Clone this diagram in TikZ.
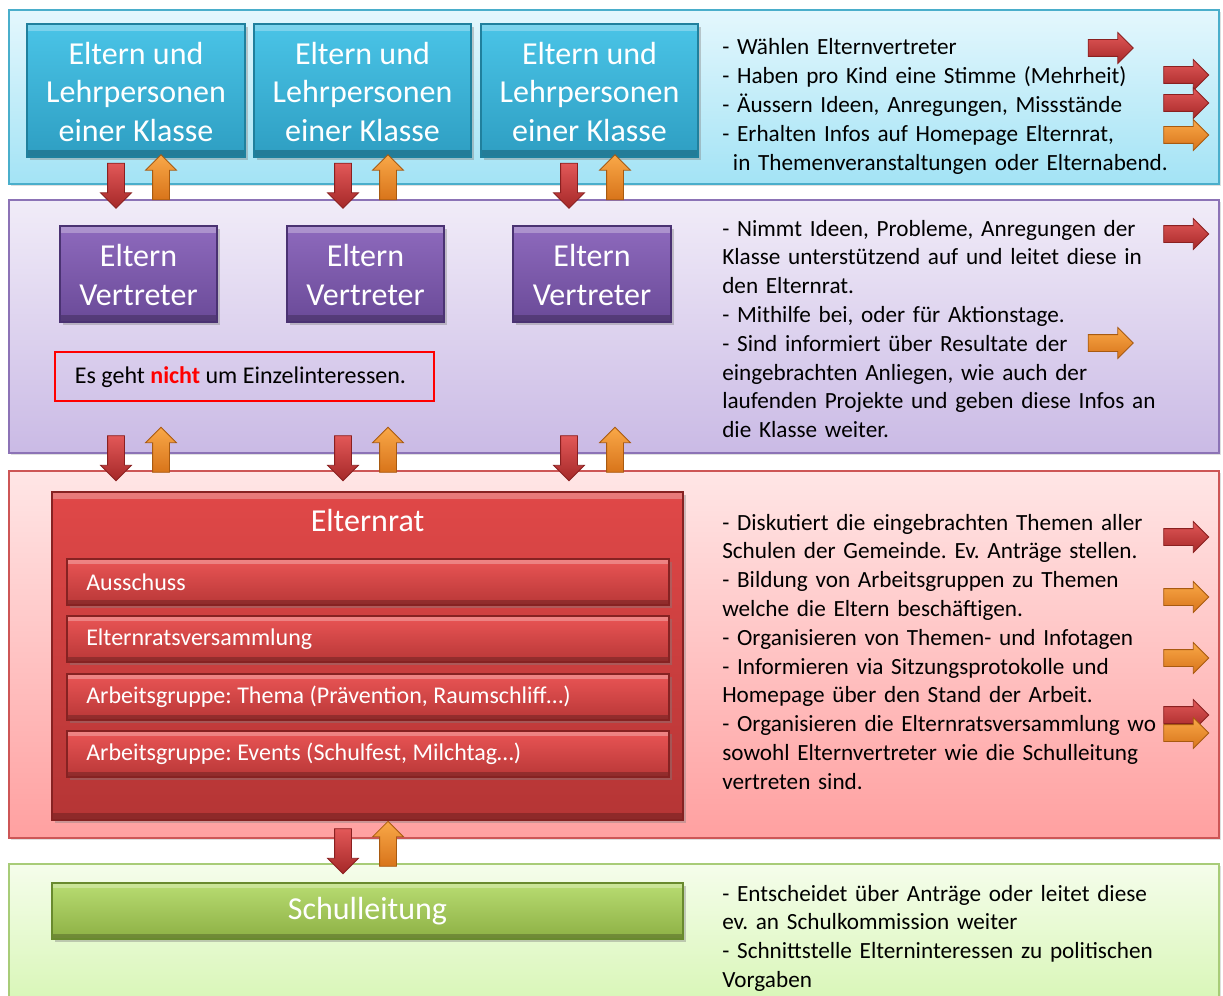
\documentclass[tikz,border=0pt]{standalone}
\usepackage{fontspec}
\setmainfont{Carlito}
\usetikzlibrary{shapes.arrows,shadows,fit}
\frenchspacing
\definecolor{bAt}{HTML}{E4F7FD}
\definecolor{bAb}{HTML}{A3E3F5}
\definecolor{bAe}{HTML}{4AAECB}
\definecolor{bBt}{HTML}{F1ECF8}
\definecolor{bBb}{HTML}{CABAE5}
\definecolor{bBe}{HTML}{8C73B6}
\definecolor{bCt}{HTML}{FFE6E6}
\definecolor{bCb}{HTML}{FFA0A0}
\definecolor{bCe}{HTML}{CD5656}
\definecolor{bDt}{HTML}{F5FDEB}
\definecolor{bDb}{HTML}{D8F6B6}
\definecolor{bDe}{HTML}{A8CC78}
\definecolor{tealT}{HTML}{4AC4E7}
\definecolor{tealB}{HTML}{2E9EC2}
\definecolor{tealE}{HTML}{20809D}
\definecolor{purT}{HTML}{8E6ABD}
\definecolor{purB}{HTML}{6A4A98}
\definecolor{purE}{HTML}{4A3272}
\definecolor{erT}{HTML}{E04848}
\definecolor{erB}{HTML}{B53535}
\definecolor{erE}{HTML}{862222}
\definecolor{sbT}{HTML}{EA5555}
\definecolor{sbB}{HTML}{B83737}
\definecolor{slT}{HTML}{B8DC72}
\definecolor{slB}{HTML}{8DB044}
\definecolor{slE}{HTML}{698A2E}
\definecolor{redT}{HTML}{E25858}
\definecolor{redB}{HTML}{A52828}
\definecolor{redE}{HTML}{8A2020}
\definecolor{orT}{HTML}{F9A848}
\definecolor{orB}{HTML}{D8741A}
\definecolor{orE}{HTML}{A85A10}
\definecolor{hotred}{HTML}{FF0000}
\begin{document}
\begin{tikzpicture}[x=0.75pt,y=-0.75pt,
  every node/.style={inner sep=0pt},
  bandbase/.style={line width=1.5pt, drop shadow={shadow xshift=1.5pt, shadow yshift=-1.5pt, opacity=.25}},
  bandA/.style={bandbase, draw=bAe, top color=bAt, bottom color=bAb},
  bandB/.style={bandbase, draw=bBe, top color=bBt, bottom color=bBb},
  bandC/.style={bandbase, draw=bCe, top color=bCt, bottom color=bCb},
  bandD/.style={bandbase, draw=bDe, top color=bDt, bottom color=bDb},
  bevel/.style={path picture={
     \fill[white,opacity=.28] (path picture bounding box.north west) rectangle ([yshift=-#1]path picture bounding box.north east);
     \fill[black,opacity=.22] (path picture bounding box.south west) rectangle ([yshift=#1]path picture bounding box.south east);}},
  boxbase/.style={line width=0.8pt, drop shadow={shadow xshift=2pt, shadow yshift=-2pt, opacity=.4}},
  boxtext/.style={text=white, align=center, font=\fontsize{24}{29}\selectfont},
  tealbox/.style={boxbase, bevel=5pt, draw=tealE, top color=tealT, bottom color=tealB},
  purbox/.style={boxbase, bevel=5pt, draw=purE, top color=purT, bottom color=purB},
  erbox/.style={boxbase, bevel=5pt, draw=erE, top color=erT, bottom color=erB},
  subbar/.style={boxbase, bevel=3.5pt, draw=erE, top color=sbT, bottom color=sbB},
  slbox/.style={boxbase, bevel=4pt, draw=slE, top color=slT, bottom color=slB},
  sublabel/.style={text=white, font=\fontsize{18}{21.6}\selectfont, anchor=west},
  desc/.style={font=\fontsize{17.4}{21.6}\selectfont, align=left, text width=370pt, anchor=base west},
  arr/.style={single arrow, single arrow head extend=5.25pt, single arrow head indent=0pt,
     text height=12pt, text depth=0pt, minimum height=33.75pt, line width=0.6pt},
  redarr/.style={arr, draw=redE, top color=redT, bottom color=redB},
  orarr/.style={arr, draw=orE, top color=orT, bottom color=orB}
]
\useasboundingbox (0,0) rectangle (1223,995);
\clip (0,0) rectangle (1223,995);

% bands
\node[bandA, fit={(9,10) (1219,184)}] (bandA) {};
\node[bandB, fit={(9,200) (1219,453)}] (bandB) {};
\node[bandC, fit={(9,471) (1219,838)}] (bandC) {};
\node[bandD, fit={(9,864) (1219,1005)}] (bandD) {};

% class boxes
\node[tealbox, fit={(27,24) (245,157)}] (k1) {};
\node[tealbox, fit={(254,24) (471,157)}] (k2) {};
\node[tealbox, fit={(481,24) (698,157)}] (k3) {};
\node[boxtext] (k1t) at ([yshift=-1pt]k1.center) {Eltern und\\Lehrpersonen\\einer Klasse};
\node[boxtext] (k2t) at ([yshift=-1pt]k2.center) {Eltern und\\Lehrpersonen\\einer Klasse};
\node[boxtext] (k3t) at ([yshift=-1pt]k3.center) {Eltern und\\Lehrpersonen\\einer Klasse};

% representatives
\node[purbox, fit={(60,226) (217,322)}] (v1) {};
\node[purbox, fit={(287,226) (444,322)}] (v2) {};
\node[purbox, fit={(513,226) (671,322)}] (v3) {};
\node[boxtext] (v1t) at ([yshift=-1pt]v1.center) {Eltern\\Vertreter};
\node[boxtext] (v2t) at ([yshift=-1pt]v2.center) {Eltern\\Vertreter};
\node[boxtext] (v3t) at ([yshift=-1pt]v3.center) {Eltern\\Vertreter};

\node[draw=hotred, line width=1.1pt, fit={(55,352) (434,401)}] (note) {};
\node[font=\fontsize{18}{21.6}\selectfont] (notet) at (240.5,377)
  {Es geht \textbf{\textcolor{hotred}{nicht}} um Einzelinteressen.};

% Elternrat
\node[erbox, fit={(52,492) (683,820)}] (er) {};
\node[boxtext] (ertitle) at (367.5,521) {Elternrat};
\node[subbar, fit={(67,559) (669,605)}] (s1) {};
\node[subbar, fit={(67,616) (669,662)}] (s2) {};
\node[subbar, fit={(67,674) (669,720)}] (s3) {};
\node[subbar, fit={(67,731) (669,777)}] (s4) {};
\node[sublabel] (s1t) at (86,582) {Ausschuss};
\node[sublabel] (s2t) at (86,639) {Elternratsversammlung};
\node[sublabel] (s3t) at (86,697) {Arbeitsgruppe: Thema (Prävention, Raumschliff…)};
\node[sublabel] (s4t) at (86,754) {Arbeitsgruppe: Events (Schulfest, Milchtag…)};

% Schulleitung
\node[slbox, fit={(52,883) (683,939)}] (sl) {};
\node[boxtext] (slt) at (sl.center) {Schulleitung};

% vertical arrows
\foreach \i/\xd/\xu in {1/116/161, 2/343/388, 3/569/615}{
  \node[redarr, rotate=-90] (dA\i) at (\xd,181.5) {};
  \node[orarr, rotate=90] (uA\i) at (\xu,181.5) {};
  \node[redarr, rotate=-90] (dB\i) at (\xd,454) {};
  \node[orarr, rotate=90] (uB\i) at (\xu,454) {};
}
\node[redarr, rotate=-90] (dC) at (343,847) {};
\node[orarr, rotate=90] (uC) at (388,848) {};

% descriptions
\node[desc] (t1) at (722,55) {- Wählen Elternvertreter\\
- Haben pro Kind eine Stimme (Mehrheit)\\
- Äussern Ideen, Anregungen, Missstände\\
- Erhalten Infos auf Homepage Elternrat,\\
\hspace*{8pt}in Themenveranstaltungen oder Elternabend.};

\node[desc] (t2) at (722,236) {- Nimmt Ideen, Probleme, Anregungen der\\
Klasse unterstützend auf und leitet diese in\\
den Elternrat.\\
- Mithilfe bei, oder für Aktionstage.\\
- Sind informiert über Resultate der\\
eingebrachten Anliegen, wie auch der\\
laufenden Projekte und geben diese Infos an\\
die Klasse weiter.};

\node[desc] (t3) at (722,530) {- Diskutiert die eingebrachten Themen aller\\
Schulen der Gemeinde. Ev. Anträge stellen.\\
- Bildung von Arbeitsgruppen zu Themen\\
welche die Eltern beschäftigen.\\
- Organisieren von Themen- und Infotagen\\
- Informieren via Sitzungsprotokolle und\\
Homepage über den Stand der Arbeit.\\
- Organisieren die Elternratsversammlung wo\\
sowohl Elternvertreter wie die Schulleitung\\
vertreten sind.};

\node[desc] (t4) at (722,901) {- Entscheidet über Anträge oder leitet diese\\
ev. an Schulkommission weiter\\
- Schnittstelle Elterninteressen zu politischen\\
Vorgaben};

% side arrows
\node[redarr] (r1) at (1106.5,48) {};
\node[redarr] (r2) at (1182,75) {};
\node[redarr] (r3) at (1182,103) {};
\node[orarr] (r4) at (1182,135) {};
\node[redarr] (r5) at (1182,234) {};
\node[orarr] (r6) at (1106.5,343) {};
\node[redarr] (r7) at (1182,537) {};
\node[orarr] (r8) at (1182,597) {};
\node[orarr] (r9) at (1182,658) {};
\node[redarr] (r10) at (1182,715) {};
\node[orarr] (r11) at (1182,733) {};
\end{tikzpicture}
\end{document}
